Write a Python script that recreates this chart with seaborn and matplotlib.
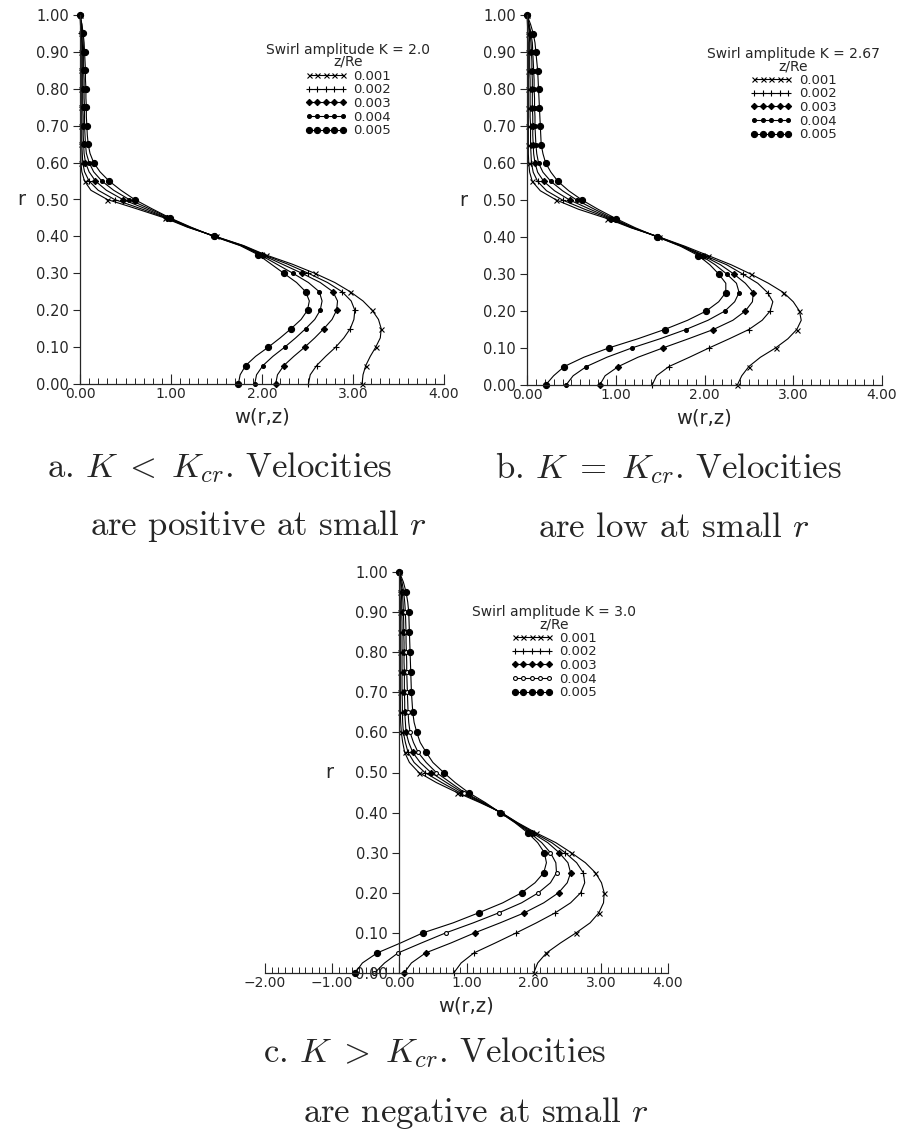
import numpy as np
import pandas as pd
import matplotlib
matplotlib.use("Agg")
import matplotlib.pyplot as plt
from matplotlib.ticker import MultipleLocator, FuncFormatter
import seaborn as sns

sns.set_style("ticks")
plt.rcParams["font.family"] = ["DejaVu Sans"]
plt.rcParams["mathtext.fontset"] = "cm"

# radial stations
R = [0.000, 0.025, 0.050, 0.075, 0.100, 0.125, 0.150, 0.175, 0.200, 0.225,
     0.250, 0.275, 0.300, 0.325, 0.350, 0.375, 0.400, 0.425, 0.450, 0.475,
     0.500, 0.525, 0.550, 0.575, 0.600, 0.625, 0.650, 0.675, 0.700, 0.725,
     0.750, 0.775, 0.800, 0.825, 0.850, 0.875, 0.900, 0.925, 0.950, 0.975,
     1.000]

Z_LABELS = ["0.001", "0.002", "0.003", "0.004", "0.005"]

# axial velocity w(r,z), swirl amplitude K = 2.0
A1 = [3.10, 3.11, 3.14, 3.19, 3.25, 3.30, 3.31, 3.28, 3.21, 3.11, 2.97, 2.80, 2.58, 2.33, 2.04, 1.80, 1.49, 1.18, 0.93, 0.62,
      0.30, 0.12, 0.05, 0.02, 0.01, 0.01, 0.01, 0.01, 0.01, 0.01, 0.01, 0.01, 0.01, 0.01, 0.01, 0.01, 0.01, 0.01, 0.01, 0.005, 0.0]
A2 = [2.51, 2.53, 2.60, 2.70, 2.81, 2.90, 2.97, 3.01, 3.02, 2.98, 2.88, 2.72, 2.51, 2.28, 2.02, 1.79, 1.485, 1.19, 0.95, 0.67,
      0.38, 0.20, 0.10, 0.05, 0.03, 0.025, 0.02, 0.02, 0.02, 0.02, 0.02, 0.02, 0.02, 0.02, 0.02, 0.02, 0.02, 0.02, 0.015, 0.01, 0.0]
A3 = [2.15, 2.17, 2.24, 2.35, 2.47, 2.58, 2.68, 2.77, 2.82, 2.83, 2.78, 2.64, 2.44, 2.22, 2.00, 1.78, 1.48, 1.20, 0.96, 0.72,
      0.47, 0.29, 0.17, 0.10, 0.06, 0.045, 0.04, 0.035, 0.035, 0.035, 0.03, 0.03, 0.03, 0.03, 0.03, 0.03, 0.03, 0.025, 0.02, 0.015, 0.0]
A4 = [1.92, 1.94, 2.01, 2.12, 2.25, 2.37, 2.48, 2.58, 2.64, 2.66, 2.63, 2.51, 2.34, 2.16, 1.98, 1.77, 1.475, 1.21, 0.98, 0.76,
      0.54, 0.37, 0.24, 0.15, 0.10, 0.07, 0.06, 0.055, 0.05, 0.05, 0.05, 0.045, 0.045, 0.045, 0.04, 0.04, 0.04, 0.035, 0.03, 0.02, 0.0]
A5 = [1.74, 1.76, 1.82, 1.93, 2.07, 2.20, 2.32, 2.43, 2.50, 2.52, 2.48, 2.38, 2.24, 2.10, 1.96, 1.76, 1.47, 1.22, 0.99, 0.79,
      0.60, 0.45, 0.32, 0.22, 0.15, 0.11, 0.09, 0.08, 0.075, 0.07, 0.07, 0.065, 0.065, 0.06, 0.06, 0.055, 0.05, 0.045, 0.035, 0.02, 0.0]

# swirl amplitude K = 2.67
B1 = [2.37, 2.42, 2.50, 2.63, 2.80, 2.94, 3.04, 3.09, 3.07, 3.00, 2.89, 2.72, 2.52, 2.30, 2.04, 1.78, 1.49, 1.17, 0.90, 0.58,
      0.33, 0.15, 0.06, 0.03, 0.02, 0.015, 0.015, 0.015, 0.015, 0.015, 0.015, 0.015, 0.015, 0.015, 0.015, 0.015, 0.015, 0.015, 0.01, 0.005, 0.0]
B2 = [1.41, 1.46, 1.60, 1.83, 2.05, 2.28, 2.50, 2.65, 2.74, 2.77, 2.71, 2.60, 2.43, 2.25, 2.00, 1.76, 1.485, 1.18, 0.93, 0.65,
      0.40, 0.22, 0.12, 0.07, 0.05, 0.045, 0.04, 0.04, 0.04, 0.035, 0.035, 0.035, 0.035, 0.035, 0.03, 0.03, 0.03, 0.03, 0.025, 0.015, 0.0]
B3 = [0.82, 0.88, 1.03, 1.25, 1.53, 1.82, 2.10, 2.32, 2.46, 2.54, 2.55, 2.46, 2.33, 2.18, 1.98, 1.75, 1.48, 1.19, 0.95, 0.71,
      0.48, 0.31, 0.19, 0.12, 0.09, 0.075, 0.07, 0.065, 0.065, 0.065, 0.06, 0.06, 0.06, 0.06, 0.055, 0.055, 0.05, 0.045, 0.035, 0.02, 0.0]
B4 = [0.44, 0.52, 0.67, 0.90, 1.18, 1.50, 1.79, 2.04, 2.23, 2.34, 2.39, 2.36, 2.25, 2.12, 1.96, 1.74, 1.475, 1.20, 0.97, 0.76,
      0.56, 0.40, 0.27, 0.18, 0.13, 0.11, 0.10, 0.095, 0.09, 0.09, 0.085, 0.085, 0.08, 0.08, 0.075, 0.07, 0.065, 0.06, 0.045, 0.025, 0.0]
B5 = [0.21, 0.30, 0.42, 0.64, 0.92, 1.25, 1.55, 1.81, 2.02, 2.16, 2.24, 2.24, 2.16, 2.06, 1.93, 1.73, 1.47, 1.22, 1.00, 0.80,
      0.62, 0.47, 0.35, 0.27, 0.21, 0.18, 0.16, 0.155, 0.15, 0.145, 0.14, 0.135, 0.13, 0.125, 0.12, 0.11, 0.10, 0.09, 0.07, 0.04, 0.0]

# swirl amplitude K = 3.0
C1 = [2.00, 2.06, 2.19, 2.40, 2.63, 2.84, 2.97, 3.04, 3.05, 3.01, 2.92, 2.77, 2.56, 2.33, 2.03, 1.76, 1.52, 1.20, 0.86, 0.55,
      0.29, 0.15, 0.08, 0.05, 0.03, 0.02, 0.015, 0.015, 0.015, 0.015, 0.015, 0.015, 0.015, 0.015, 0.015, 0.015, 0.015, 0.015, 0.01, 0.005, 0.0]
C2 = [0.81, 0.92, 1.11, 1.43, 1.74, 2.04, 2.32, 2.55, 2.70, 2.76, 2.74, 2.64, 2.47, 2.27, 2.00, 1.75, 1.515, 1.22, 0.90, 0.63,
      0.38, 0.22, 0.13, 0.09, 0.06, 0.05, 0.045, 0.045, 0.04, 0.04, 0.04, 0.04, 0.04, 0.04, 0.04, 0.04, 0.035, 0.035, 0.03, 0.02, 0.0]
C3 = [0.07, 0.18, 0.39, 0.77, 1.12, 1.50, 1.86, 2.15, 2.37, 2.50, 2.55, 2.51, 2.38, 2.21, 1.97, 1.74, 1.51, 1.24, 0.94, 0.70,
      0.47, 0.31, 0.20, 0.14, 0.10, 0.09, 0.08, 0.08, 0.075, 0.075, 0.075, 0.07, 0.07, 0.07, 0.065, 0.065, 0.06, 0.055, 0.045, 0.025, 0.0]
C4 = [-0.37, -0.22, -0.02, 0.33, 0.69, 1.10, 1.48, 1.82, 2.07, 2.25, 2.34, 2.33, 2.25, 2.12, 1.94, 1.73, 1.505, 1.26, 0.97, 0.76,
      0.55, 0.40, 0.28, 0.21, 0.16, 0.14, 0.13, 0.125, 0.12, 0.115, 0.11, 0.11, 0.105, 0.10, 0.10, 0.095, 0.09, 0.08, 0.065, 0.04, 0.0]
C5 = [-0.66, -0.55, -0.33, 0.02, 0.35, 0.80, 1.18, 1.54, 1.82, 2.02, 2.15, 2.19, 2.16, 2.06, 1.91, 1.72, 1.50, 1.28, 1.03, 0.83,
      0.66, 0.50, 0.40, 0.31, 0.26, 0.22, 0.20, 0.19, 0.18, 0.175, 0.17, 0.165, 0.16, 0.155, 0.15, 0.145, 0.14, 0.125, 0.10, 0.06, 0.0]

MARKERS = ["x", "+", "D", "o", "o"]
MSIZES = [3.6, 5.0, 3.2, 2.8, 4.4]


def tick_fmt(v, pos):
    return f"{v:.2f}".replace("-", "\u2212")


def draw_panel(ax, series, k_text, xlim, open_small, legend_anchor, r_label_x, zero_spine):
    for i, w in enumerate(series):
        df = pd.DataFrame({"w": w, "r": R})
        face = "white" if (i == 3 and open_small) else "black"
        sns.lineplot(data=df, x="w", y="r", sort=False, estimator=None, ax=ax,
                     color="black", linewidth=0.8, marker=MARKERS[i],
                     markersize=MSIZES[i], markerfacecolor=face,
                     markeredgecolor="black", markeredgewidth=0.8,
                     markevery=2, clip_on=False)

    ax.set_xlim(*xlim)
    ax.set_ylim(0, 1)
    sns.despine(ax=ax)
    if zero_spine:
        ax.spines["left"].set_position(("data", 0))
    for s in ("left", "bottom"):
        ax.spines[s].set_linewidth(0.9)

    ax.xaxis.set_major_locator(MultipleLocator(1.0))
    ax.xaxis.set_minor_locator(MultipleLocator(0.1))
    ax.yaxis.set_major_locator(MultipleLocator(0.1))
    ax.xaxis.set_major_formatter(FuncFormatter(tick_fmt))
    ax.yaxis.set_major_formatter(FuncFormatter(tick_fmt))
    ax.tick_params(axis="x", which="major", direction="in", length=7, width=0.8,
                   labelsize=10, pad=2)
    ax.tick_params(axis="x", which="minor", direction="in", length=4, width=0.7)
    ax.tick_params(axis="y", which="major", direction="out", length=5, width=0.8,
                   labelsize=10.5, pad=3)

    ax.set_xlabel("w(r,z)", fontsize=14, labelpad=5)
    ax.set_ylabel("r", rotation=0, fontsize=14, ha="center", va="center")
    ax.yaxis.set_label_coords(r_label_x, 0.5)

    handles = ax.get_lines()[:5]
    leg = ax.legend(handles, Z_LABELS, title=f"Swirl amplitude K = {k_text}\nz/Re",
                    loc="upper center", bbox_to_anchor=legend_anchor,
                    frameon=False, numpoints=5, handlelength=3.2,
                    handletextpad=0.5, labelspacing=0.05, borderpad=0,
                    fontsize=9.5, title_fontsize=10)
    title = leg.get_title()
    title.set_multialignment("center")
    title.set_linespacing(0.85)


W, H = 898, 1142
fig = plt.figure(figsize=(W / 100, H / 100), dpi=100)


def add_axes(left, top, right, bottom):
    return fig.add_axes([left / W, 1 - bottom / H, (right - left) / W, (bottom - top) / H])


ax_a = add_axes(80, 15, 444, 384)
ax_b = add_axes(527, 15, 882, 385)
ax_c = add_axes(265, 572, 668, 973)

draw_panel(ax_a, [A1, A2, A3, A4, A5], "2.0", (0, 4), False, (0.736, 0.943), -0.16, False)
draw_panel(ax_b, [B1, B2, B3, B4, B5], "2.67", (0, 4), False, (0.75, 0.932), -0.18, False)
draw_panel(ax_c, [C1, C2, C3, C4, C5], "3.0", (-2, 4), True, (0.717, 0.935), 0.16, True)

cap = dict(family="cmr10", size=25, va="baseline", ha="left")
fig.text(47 / W, 1 - 477 / H, r"a. $K\;<\;K_{cr}$. Velocities", **cap)
fig.text(90 / W, 1 - 535 / H, r"are positive at small $r$", **cap)
fig.text(495 / W, 1 - 478 / H, r"b. $K\;=\;K_{cr}$. Velocities", **cap)
fig.text(538 / W, 1 - 537 / H, r"are low at small $r$", **cap)
fig.text(263 / W, 1 - 1062 / H, r"c. $K\;>\;K_{cr}$. Velocities", **cap)
fig.text(303 / W, 1 - 1122 / H, r"are negative at small $r$", **cap)

fig.savefig("out.png", dpi=100)
